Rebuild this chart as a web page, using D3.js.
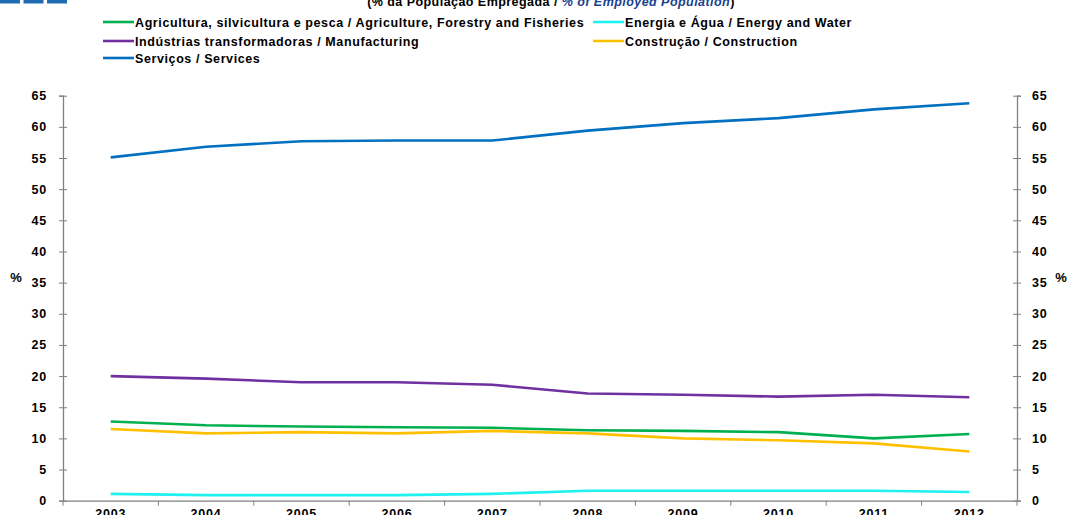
<!DOCTYPE html>
<html>
<head>
<meta charset="utf-8">
<script src="https://cdn.jsdelivr.net/npm/d3@7"></script>
<style>
  body { margin: 0; background: #fff; }
  svg { display: block; }
  text { font-family: "Liberation Sans", Arial, sans-serif; font-weight: bold; fill: #000; }
</style>
</head>
<body>
<script>
// employed population by sector, % of total
let years = ['2003', '2004', '2005', '2006', '2007', '2008', '2009', '2010', '2011', '2012'];
let agriculture = [12.7, 12.1, 11.9, 11.8, 11.7, 11.3, 11.2, 11.0, 10.0, 10.7];
let energy = [1.1, 0.9, 0.9, 0.9, 1.1, 1.6, 1.6, 1.6, 1.6, 1.4];
let manufacturing = [20.0, 19.6, 19.0, 19.0, 18.6, 17.2, 17.0, 16.7, 17.0, 16.6];
let construction = [11.5, 10.8, 11.0, 10.8, 11.2, 10.8, 10.0, 9.7, 9.2, 7.9];
let services = [55.1, 56.8, 57.7, 57.8, 57.8, 59.4, 60.6, 61.4, 62.8, 63.8];
let yTicks = [0, 5, 10, 15, 20, 25, 30, 35, 40, 45, 50, 55, 60, 65];

let series = [
    {name: 'Agricultura, silvicultura e pesca / Agriculture, Forestry and Fisheries', values: agriculture, color: '#00b050'},
    {name: 'Energia e Água / Energy and Water', values: energy, color: '#1ff0f0'},
    {name: 'Indústrias transformadoras / Manufacturing', values: manufacturing, color: '#7030a0'},
    {name: 'Construção / Construction', values: construction, color: '#ffc000'},
    {name: 'Serviços / Services', values: services, color: '#0070c0'}
];

let width = 1067, height = 515;
let plot = {left: 63, right: 1017, top: 95.7, bottom: 500.7};

let svg = d3.select('body').append('svg')
    .attr('width', width)
    .attr('height', height);

// little logo blocks top-left
[0, 23.5, 47].forEach(bx => {
    svg.append('rect').attr('x', bx).attr('y', 0).attr('width', 20).attr('height', 3.5).attr('fill', '#1f6bb5');
});

// title (cut off at top, like the source image)
let title = svg.append('text').attr('x', 551).attr('y', 5.5).attr('text-anchor', 'middle')
    .style('font-size', '12.5px').style('letter-spacing', '0.45px');
title.append('tspan').text('(% da População Empregada / ');
title.append('tspan').text('% of Employed Population').style('font-style', 'italic').style('fill', '#1a3f8f');
title.append('tspan').text(')');

let x = d3.scaleBand().domain(years).range([plot.left, plot.right]);
let y = d3.scaleLinear().domain([0, 65]).range([plot.bottom, plot.top]);

// axes
let axisColor = '#808080';
let tickFont = g => g.selectAll('.tick text')
    .style('font-size', '12.5px').style('font-family', '"Liberation Sans", Arial, sans-serif')
    .style('font-weight', 'bold').style('letter-spacing', '0.8px').attr('fill', '#000');

let gl = svg.append('g').attr('transform', `translate(${plot.left},0)`)
    .call(d3.axisLeft(y).tickValues(yTicks).tickSize(4).tickPadding(12));
let gr = svg.append('g').attr('transform', `translate(${plot.right},0)`)
    .call(d3.axisRight(y).tickValues(yTicks).tickSize(4).tickPadding(11));
[gl, gr].forEach(g => {
    g.select('.domain').attr('stroke', axisColor).attr('stroke-width', 1.3);
    g.selectAll('.tick line').attr('stroke', axisColor).attr('x1', -4).attr('x2', 4);
    tickFont(g);
});

let gx = svg.append('g').attr('transform', `translate(0,${plot.bottom})`)
    .call(d3.axisBottom(x).tickSize(0).tickPadding(8));
gx.select('.domain').attr('stroke', axisColor).attr('stroke-width', 1.3);
tickFont(gx);
// tick marks between categories
d3.range(years.length + 1).forEach(i => {
    let xx = plot.left + i * x.step();
    svg.append('line').attr('x1', xx).attr('x2', xx).attr('y1', plot.bottom).attr('y2', plot.bottom + 5)
        .attr('stroke', axisColor).attr('stroke-width', 1);
});

svg.append('text').attr('x', 16).attr('y', 282).attr('text-anchor', 'middle').style('font-size', '13px').text('%');
svg.append('text').attr('x', 1061).attr('y', 282).attr('text-anchor', 'middle').style('font-size', '13px').text('%');

// lines
let line = d3.line()
    .x((d, i) => x(years[i]) + x.bandwidth() / 2)
    .y(d => y(d));

series.forEach(s => {
    svg.append('path').datum(s.values)
        .attr('d', line)
        .attr('fill', 'none')
        .attr('stroke', s.color)
        .attr('stroke-width', 2.6)
        .attr('stroke-linejoin', 'round');
});

// legend
let legendPos = [[103, 22], [593, 22], [103, 41], [593, 41], [103, 58]];
series.forEach((s, i) => {
    let [lx, ly] = legendPos[i];
    svg.append('line').attr('x1', lx).attr('x2', lx + 31).attr('y1', ly).attr('y2', ly)
        .attr('stroke', s.color).attr('stroke-width', 2.6);
    svg.append('text').attr('x', lx + 32).attr('y', ly + 4.5)
        .style('font-size', '12.5px').style('letter-spacing', '0.6px').text(s.name);
});
</script>
</body>
</html>
